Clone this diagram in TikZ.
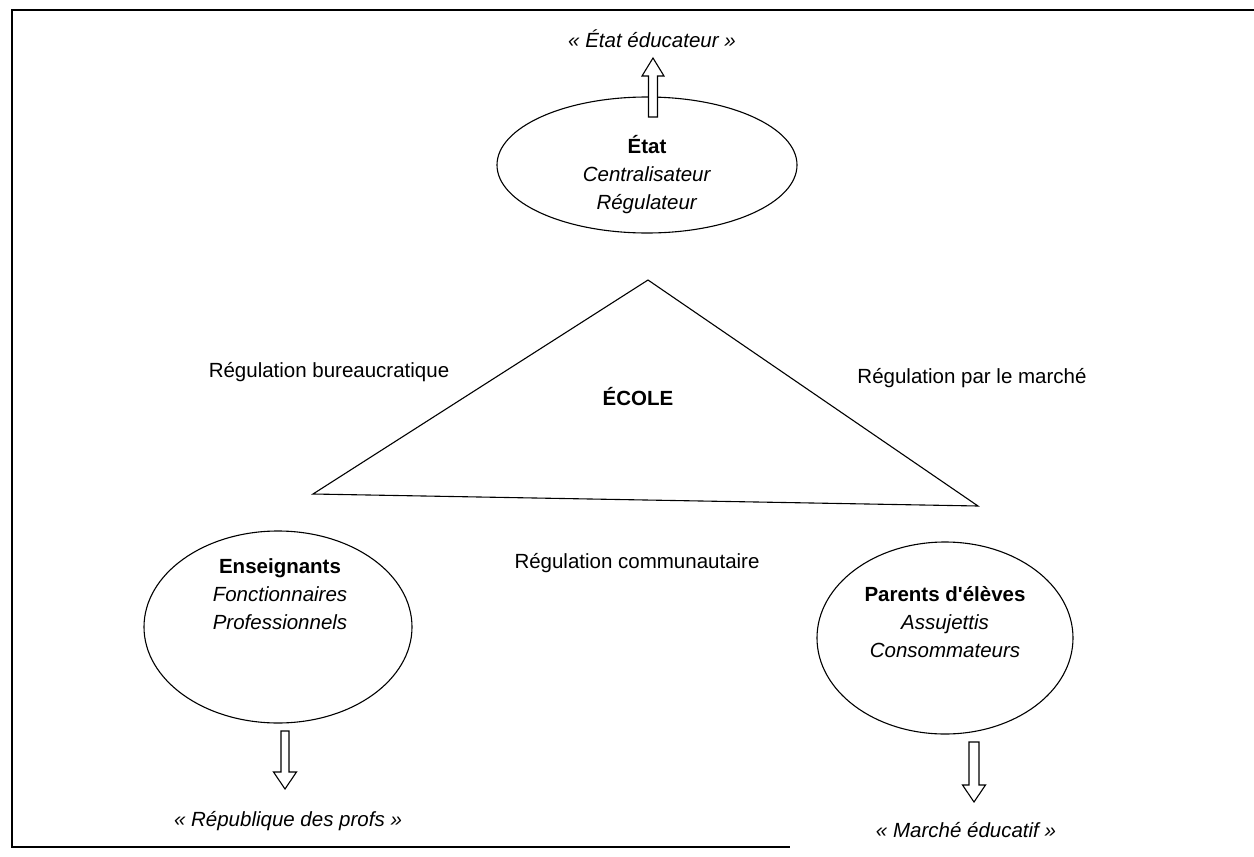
\documentclass[tikz,border=0pt]{standalone}
\usepackage{fontspec}
\setmainfont{Liberation Sans}[Ligatures=TeXOff]
\usetikzlibrary{shapes.geometric}
\begin{document}
\begin{tikzpicture}[x=1pt,y=-1pt,
  txt/.style={font=\fontsize{20.5}{28}\selectfont, inner sep=0pt, align=center},
  frame/.style={line width=1.5pt},
  outline/.style={line width=1.1pt},
  hollow/.style={draw, fill=white, line width=1.1pt, line join=miter}
]
\useasboundingbox (0,0) rectangle (1254,857);
% frame
\draw[frame] (1254,10) -- (12,10) -- (12,847) -- (790,847);

% ellipses
\draw[outline] (647,165) ellipse [x radius=150, y radius=68];
\node[txt] (etat) at (647,175) {\textbf{État}\\\textit{Centralisateur}\\\textit{Régulateur}};

\draw[outline] (278,627) ellipse [x radius=134, y radius=96];
\node[txt] (ens) at (280,594) {\textbf{Enseignants}\\\textit{Fonctionnaires}\\\textit{Professionnels}};

\draw[outline] (945,638) ellipse [x radius=128, y radius=96];
\node[txt] (par) at (945,622) {\textbf{Parents d'élèves}\\\textit{Assujettis}\\\textit{Consommateurs}};

% triangle
\coordinate (apex) at (648,280);
\coordinate (lv) at (313,494);
\coordinate (rv) at (978,506);
\draw[outline, line join=miter] (apex) -- (lv) -- (rv) -- cycle;
\node[txt] (ecole) at (638,397) {\textbf{ÉCOLE}};

% regulations
\node[txt] (rb) at (329,372) {Régulation bureaucratique};
\node[txt] (rm) at (972,378) {Régulation par le marché};
\node[txt] (rc) at (637,563) {Régulation communautaire};

% hollow arrows
\draw[hollow] (648.5,117) -- (648.5,76) -- (642,76) -- (653,58) -- (664,76) -- (657.5,76) -- (657.5,117) -- cycle;
\draw[hollow] (281,731) -- (281,772) -- (273.5,772) -- (285,789) -- (296.5,772) -- (289,772) -- (289,731) -- cycle;
\draw[hollow] (969,742) -- (969,785) -- (962.5,785) -- (974,802) -- (985.5,785) -- (979,785) -- (979,742) -- cycle;

% outcome labels
\node[txt] (ee) at (652,39) {\textit{« État éducateur »}};
\node[txt] (rp) at (288,821) {\textit{« République des profs »}};
\node[txt] (me) at (966,830) {\textit{« Marché éducatif »}};
\end{tikzpicture}
\end{document}
